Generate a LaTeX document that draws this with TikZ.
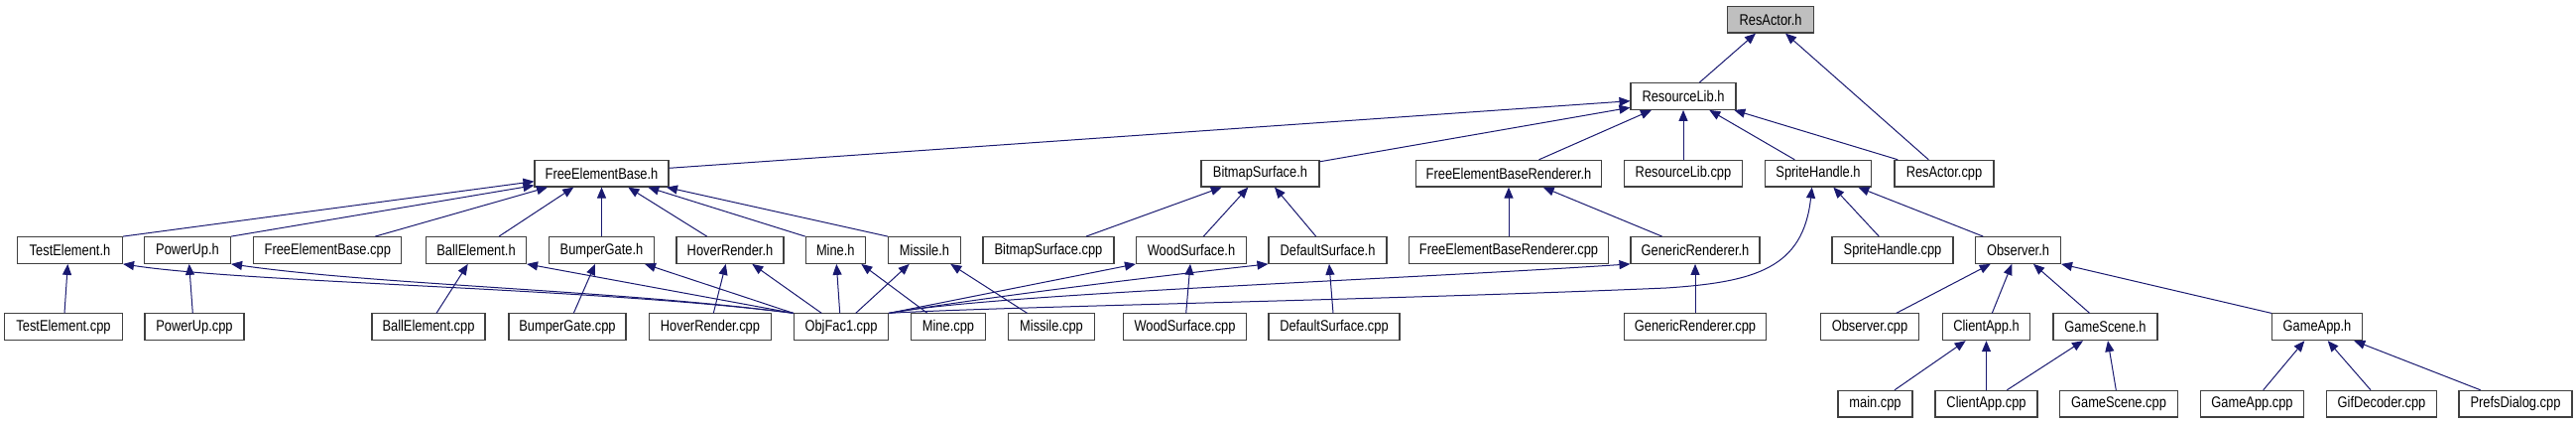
\documentclass[tikz,border=0pt]{standalone}
\usepackage{fontspec}
\newfontfamily\doxfont[FakeStretch=0.83]{Liberation Sans}
\usetikzlibrary{arrows.meta}
\definecolor{edgeblue}{HTML}{191970}
\definecolor{boxgray}{HTML}{404040}
\definecolor{rootgray}{HTML}{BFBFBF}
\newcommand\depedge[4]{\draw[dep] ([xshift=#4pt]#3.north) -- ([xshift=#2pt]#1.south);}
\begin{document}
\begin{tikzpicture}[x=1pt,y=-1pt,
  box/.style={draw=boxgray, line width=1.1pt, fill=white, minimum height=26.7pt,
    inner sep=0pt, font=\doxfont\fontsize{15.5}{17}\selectfont},
  dep/.style={draw=edgeblue, line width=1pt, -{Triangle[length=11pt,width=9pt]}},
]
\fill[white] (0,0) rectangle (2597,427);
\useasboundingbox (0,0) rectangle (2597,427);
% row 0
\node[box, minimum width=87pt, fill=rootgray] (resactorh) at (1785,19.7) {ResActor.h};
% row 1
\node[box, minimum width=106pt] (rlh) at (1697,97) {ResourceLib.h};
% row 2
\node[box, minimum width=135pt] (febh) at (606.5,174.7) {FreeElementBase.h};
\node[box, minimum width=119pt] (bsh) at (1270.5,174.7) {BitmapSurface.h};
\node[box, minimum width=187pt] (febrh) at (1521,174.7) {FreeElementBaseRenderer.h};
\node[box, minimum width=119pt] (rlcpp) at (1697,174.7) {ResourceLib.cpp};
\node[box, minimum width=107pt] (shh) at (1833,174.7) {SpriteHandle.h};
\node[box, minimum width=100pt] (racpp) at (1960,174.7) {ResActor.cpp};
% row 3
\node[box, minimum width=106pt] (teh) at (70.5,252) {TestElement.h};
\node[box, minimum width=87pt] (puh) at (189,252) {PowerUp.h};
\node[box, minimum width=149pt] (febcpp) at (330.3,252) {FreeElementBase.cpp};
\node[box, minimum width=101pt] (beh) at (480,252) {BallElement.h};
\node[box, minimum width=106pt] (bgh) at (606.5,252) {BumperGate.h};
\node[box, minimum width=108pt] (hrh) at (736,252) {HoverRender.h};
\node[box, minimum width=60pt] (mineh) at (842.3,252) {Mine.h};
\node[box, minimum width=73pt] (missh) at (932,252) {Missile.h};
\node[box, minimum width=132pt] (bscpp) at (1057,252) {BitmapSurface.cpp};
\node[box, minimum width=111pt] (wsh) at (1201,252) {WoodSurface.h};
\node[box, minimum width=119pt] (dsh) at (1338.5,252) {DefaultSurface.h};
\node[box, minimum width=201pt] (febrcpp) at (1521,252) {FreeElementBaseRenderer.cpp};
\node[box, minimum width=130pt] (grh) at (1709,252) {GenericRenderer.h};
\node[box, minimum width=122pt] (shcpp) at (1908,252) {SpriteHandle.cpp};
\node[box, minimum width=86pt] (obsh) at (2034.5,252) {Observer.h};
% row 4
\node[box, minimum width=119pt] (tecpp) at (64,329.3) {TestElement.cpp};
\node[box, minimum width=100pt] (pucpp) at (196,329.3) {PowerUp.cpp};
\node[box, minimum width=114pt] (becpp) at (432,329.3) {BallElement.cpp};
\node[box, minimum width=118pt] (bgcpp) at (572,329.3) {BumperGate.cpp};
\node[box, minimum width=123pt] (hrcpp) at (716,329.3) {HoverRender.cpp};
\node[box, minimum width=95pt] (objfac) at (848,329.3) {ObjFac1.cpp};
\node[box, minimum width=75pt] (minecpp) at (956,329.3) {Mine.cpp};
\node[box, minimum width=87pt] (misscpp) at (1060,329.3) {Missile.cpp};
\node[box, minimum width=124pt] (wscpp) at (1194.5,329.3) {WoodSurface.cpp};
\node[box, minimum width=132pt] (dscpp) at (1345,329.3) {DefaultSurface.cpp};
\node[box, minimum width=143pt] (grcpp) at (1709,329.3) {GenericRenderer.cpp};
\node[box, minimum width=99pt] (obscpp) at (1885,329.3) {Observer.cpp};
\node[box, minimum width=88pt] (cah) at (2002.5,329.3) {ClientApp.h};
\node[box, minimum width=105pt] (gsh) at (2122.5,329.3) {GameScene.h};
\node[box, minimum width=91pt] (gah) at (2336,329.3) {GameApp.h};
% row 5
\node[box, minimum width=75pt] (maincpp) at (1890.5,406.7) {main.cpp};
\node[box, minimum width=103pt] (cacpp) at (2002.5,406.7) {ClientApp.cpp};
\node[box, minimum width=119pt] (gscpp) at (2136,406.7) {GameScene.cpp};
\node[box, minimum width=104pt] (gacpp) at (2270.5,406.7) {GameApp.cpp};
\node[box, minimum width=111pt] (gifcpp) at (2401,406.7) {GifDecoder.cpp};
\node[box, minimum width=114pt] (prefcpp) at (2536,406.7) {PrefsDialog.cpp};
% edges to ResActor.h
\depedge{resactorh}{-15}{rlh}{16.3}
\depedge{resactorh}{15}{racpp}{-15.7}
% edges to ResourceLib.h
\draw[dep] ([yshift=5.4pt]febh.east) -- ([yshift=-4.7pt]rlh.west);
\draw[dep] ([yshift=-2pt]bsh.north east) -- ([yshift=-11.3pt]rlh.west);
\depedge{rlh}{-32}{febrh}{30.5}
\depedge{rlh}{0}{rlcpp}{0}
\depedge{rlh}{26.3}{shh}{-23.7}
\depedge{rlh}{51.3}{racpp}{-46.7}
% edges to FreeElementBase.h
\draw[dep] (teh.north east) -- ([yshift=-8pt]febh.west);
\draw[dep] (puh.north east) -- ([yshift=-12pt]febh.west);
\depedge{febh}{-54.5}{febcpp}{48}
\depedge{febh}{-28.2}{beh}{23}
\depedge{febh}{0}{bgh}{0}
\depedge{febh}{26.8}{hrh}{-23.3}
\draw[dep] (mineh.north west) -- ([xshift=46.8pt]febh.south);
\draw[dep] (missh.north west) -- ([xshift=65.5pt]febh.south);
% edges to BitmapSurface.h
\depedge{bsh}{-38.8}{bscpp}{38}
\depedge{bsh}{-12.2}{wsh}{12.3}
\depedge{bsh}{14.5}{dsh}{-11.8}
% edges to FreeElementBaseRenderer.h
\depedge{febrh}{0}{febrcpp}{0}
\depedge{febrh}{34.7}{grh}{-33.4}
% edges to SpriteHandle.h
\depedge{shh}{15.3}{shcpp}{-13.7}
\depedge{shh}{40.3}{obsh}{-35.2}
\draw[dep] (objfac.north east) .. controls (1000,309) and (1400,302) .. (1680,290)
  .. controls (1770,284) and (1818,270) .. ([xshift=-6.3pt]shh.south);
% row 3 <- row 4
\depedge{teh}{-2.2}{tecpp}{1}
\depedge{puh}{1.7}{pucpp}{-1.7}
\depedge{beh}{-8.3}{becpp}{8}
\depedge{bgh}{-6.5}{bgcpp}{6.3}
\depedge{hrh}{-4.3}{hrcpp}{3.3}
\depedge{wsh}{-1}{wscpp}{1.2}
\depedge{dsh}{1.5}{dscpp}{-1}
\depedge{grh}{0}{grcpp}{0}
\depedge{mineh}{26}{minecpp}{-21}
\depedge{missh}{26.3}{misscpp}{-24.4}
% ObjFac1.cpp
\depedge{mineh}{1}{objfac}{-1.3}
\depedge{missh}{-15.3}{objfac}{14.7}
\depedge{hrh}{22.3}{objfac}{-19.7}
\draw[dep] (objfac.north west) -- ([xshift=43.5pt]bgh.south);
\draw[dep] (objfac.north west) -- (beh.south east);
\draw[dep] (objfac.north west) .. controls (600,290) and (250,285) .. (teh.south east);
\draw[dep] (objfac.north west) .. controls (620,292) and (380,287) .. (puh.south east);
\draw[dep] (objfac.north east) -- (wsh.south west);
\draw[dep] (objfac.north east) .. controls (990,300) and (1150,280) .. (dsh.south west);
\draw[dep] (objfac.north east) .. controls (1000,296) and (1400,282) .. (grh.south west);
% Observer.h
\depedge{obsh}{-27.8}{obscpp}{26.7}
\depedge{obsh}{-6.2}{cah}{5.8}
\depedge{obsh}{15.5}{gsh}{-15.8}
\draw[dep] (gah.north west) -- (obsh.south east);
% row 4 <- row 5
\depedge{cah}{-20.8}{maincpp}{19.5}
\depedge{cah}{0}{cacpp}{0}
\depedge{gsh}{-22.5}{cacpp}{20.8}
\depedge{gsh}{2.5}{gscpp}{-2.7}
\depedge{gah}{-12.7}{gacpp}{11.2}
\depedge{gah}{10.7}{gifcpp}{-11}
\depedge{gah}{37.3}{prefcpp}{-35.3}
\end{tikzpicture}
\end{document}
